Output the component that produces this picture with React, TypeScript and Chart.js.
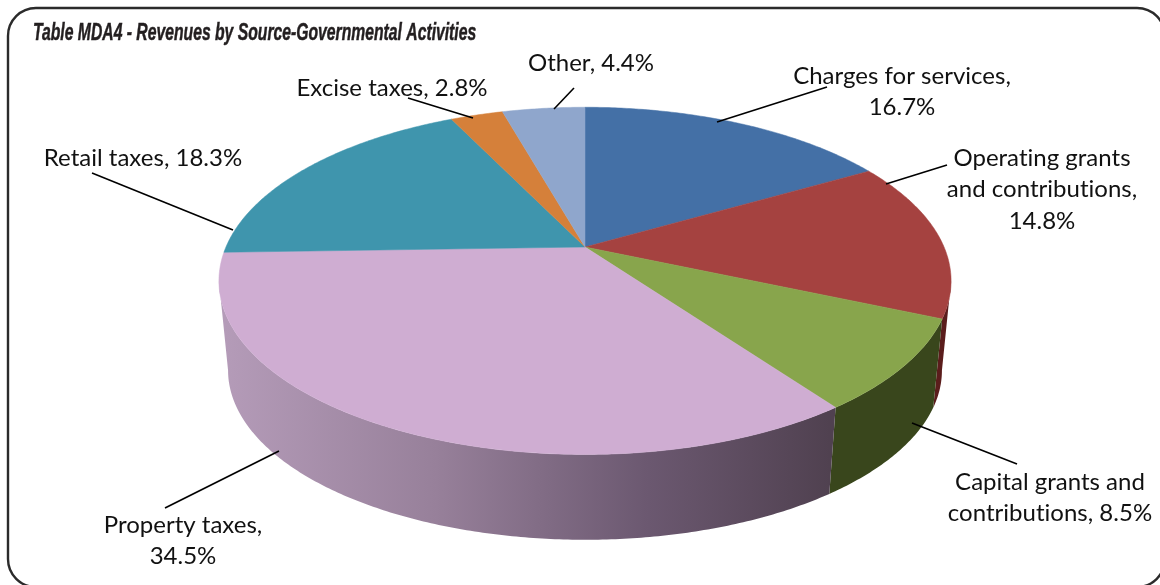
import React, { useEffect, useRef } from "react";
import { Chart, registerables } from "chart.js";

Chart.register(...registerables);

const chartTitle = "Table MDA4 - Revenues by Source-Governmental Activities";
const categories = [
  "Charges for services",
  "Operating grants and contributions",
  "Capital grants and contributions",
  "Property taxes",
  "Retail taxes",
  "Excise taxes",
  "Other",
];
const shares = [16.7, 14.8, 8.5, 34.5, 18.3, 2.8, 4.4];
const faceColors = ["#4470a6", "#a54240", "#88a54c", "#cfadd2", "#3f95ad", "#d5803a", "#8fa6cc"];
const rimColors = ["#2a4566", "#5b1d1c", "#39461c", "", "#25596a", "#7f4d22", "#55647c"];

// Callout placement: text centre, wrap width, first line centre, leader from/to.
const callouts = [
  { cx: 902, cy: 76, wrap: 235, leader: [827, 87, 717, 122] },
  { cx: 1042, cy: 158, wrap: 215, leader: [947, 165, 886, 184] },
  { cx: 1050, cy: 482, wrap: 225, leader: [1017, 464, 912, 423] },
  { cx: 183, cy: 525, wrap: 190, leader: [165, 508, 279, 451] },
  { cx: 143, cy: 158, wrap: 300, leader: [92, 173, 233, 230] },
  { cx: 392, cy: 88, wrap: 300, leader: [408, 98, 473, 118] },
  { cx: 591, cy: 63, wrap: 200, leader: [574, 88, 554, 109] },
];

const TILT = 0.195;
const STRETCH = 2.15;
const RIM_SCALE = 0.975;
const RIM_VANISH = 3620;
const LABEL_FONT = '24px Lato, "Noto Sans", sans-serif';
const LINE_HEIGHT = 31.5;
const TITLE_FONT = 'italic bold 24px "Liberation Sans", sans-serif';
const TITLE_SQUEEZE = 0.655;

type Pt = [number, number];

function onFace(arc: any, a: number): Pt {
  const d = 1 - TILT * Math.sin(a);
  return [
    arc.x + (STRETCH * arc.outerRadius * Math.cos(a)) / d,
    arc.y + (arc.outerRadius * Math.sin(a)) / d,
  ];
}

function onRim(arc: any, a: number): Pt {
  const [x, y] = onFace(arc, a);
  const vy = arc.y + RIM_VANISH;
  return [arc.x + (x - arc.x) * RIM_SCALE, vy + (y - vy) * RIM_SCALE];
}

function sweep(from: number, to: number): number[] {
  const out: number[] = [];
  const n = Math.max(2, Math.ceil(Math.abs(to - from) / 0.01));
  for (let i = 0; i <= n; i++) out.push(from + ((to - from) * i) / n);
  return out;
}

const perspectivePie = {
  id: "perspectivePie",
  beforeDatasetsDraw(chart: any) {
    const ctx: CanvasRenderingContext2D = chart.ctx;
    const arcs = chart.getDatasetMeta(0).data;
    const visibleFrom = Math.asin(TILT);
    const visibleTo = Math.PI - visibleFrom;

    ctx.save();
    // Outer wall, only where it faces the viewer.
    arcs.forEach((arc: any, i: number) => {
      const a0 = Math.max(arc.startAngle, visibleFrom);
      const a1 = Math.min(arc.endAngle, visibleTo);
      if (a1 <= a0) return;
      ctx.beginPath();
      sweep(a0, a1).forEach((a) => ctx.lineTo(...onFace(arc, a)));
      sweep(a1, a0).forEach((a) => ctx.lineTo(...onRim(arc, a)));
      ctx.closePath();
      let fill: any = rimColors[i];
      if (!fill) {
        const g = ctx.createLinearGradient(225, 0, 830, 0);
        g.addColorStop(0, "#b49bb8");
        g.addColorStop(0.35, "#97809a");
        g.addColorStop(0.7, "#6b5870");
        g.addColorStop(1, "#504150");
        fill = g;
      }
      ctx.fillStyle = fill;
      ctx.fill();
    });

    // Top face.
    arcs.forEach((arc: any, i: number) => {
      ctx.beginPath();
      ctx.moveTo(arc.x, arc.y);
      sweep(arc.startAngle, arc.endAngle).forEach((a) => ctx.lineTo(...onFace(arc, a)));
      ctx.closePath();
      ctx.fillStyle = faceColors[i];
      ctx.strokeStyle = faceColors[i];
      ctx.lineWidth = 0.5;
      ctx.fill();
      ctx.stroke();
    });
    ctx.restore();
    return false;
  },
};

function wrapText(ctx: CanvasRenderingContext2D, text: string, width: number): string[] {
  const lines: string[] = [];
  let line = "";
  text.split(" ").forEach((word) => {
    const next = line ? `${line} ${word}` : word;
    if (line && ctx.measureText(next).width > width) {
      lines.push(line);
      line = word;
    } else {
      line = next;
    }
  });
  lines.push(line);
  return lines;
}

// Runs after the whole draw, since the pie plugin cancels the stock arc pass.
const callout = {
  id: "callout",
  afterDraw(chart: any) {
    const ctx: CanvasRenderingContext2D = chart.ctx;
    ctx.save();
    ctx.font = LABEL_FONT;
    // A tiny tracking value switches off the "ti" ligature in this face.
    (ctx as any).letterSpacing = "0.01px";
    ctx.fillStyle = "#111";
    ctx.strokeStyle = "#000";
    ctx.lineWidth = 1.6;
    ctx.textAlign = "center";
    ctx.textBaseline = "middle";
    categories.forEach((name, i) => {
      const c = callouts[i];
      const [x0, y0, x1, y1] = c.leader;
      ctx.beginPath();
      ctx.moveTo(x0, y0);
      ctx.lineTo(x1, y1);
      ctx.stroke();
      wrapText(ctx, `${name}, ${shares[i]}%`, c.wrap).forEach((line, n) => {
        ctx.fillText(line, c.cx, c.cy + n * LINE_HEIGHT);
      });
    });
    ctx.restore();

    // Condensed heading: no narrow face is available, so the text is squeezed.
    ctx.save();
    ctx.translate(33, 40);
    ctx.scale(TITLE_SQUEEZE, 1);
    ctx.font = TITLE_FONT;
    ctx.fillStyle = "#231f20";
    ctx.strokeStyle = "#231f20";
    ctx.lineWidth = 0.5;
    ctx.textAlign = "left";
    ctx.textBaseline = "alphabetic";
    ctx.fillText(chartTitle, 0, 0);
    ctx.strokeText(chartTitle, 0, 0);
    ctx.restore();
  },
};

const panel = {
  id: "panel",
  beforeDraw(chart: any) {
    const ctx: CanvasRenderingContext2D = chart.ctx;
    ctx.save();
    ctx.fillStyle = "#fff";
    ctx.fillRect(0, 0, chart.width, chart.height);
    ctx.strokeStyle = "#2b2b2b";
    ctx.lineWidth = 2.4;
    ctx.beginPath();
    ctx.roundRect(8, 8, 1157, 579, 28);
    ctx.stroke();
    ctx.restore();
  },
};

export default function App() {
  const ref = useRef<HTMLCanvasElement | null>(null);

  useEffect(() => {
    const chart = new Chart(ref.current!, {
      type: "pie",
      data: {
        labels: categories,
        datasets: [{ data: shares, backgroundColor: faceColors, borderWidth: 0 }],
      },
      options: {
        animation: false,
        responsive: false,
        layout: { padding: { left: 33, right: 23, top: 80, bottom: 171 } },
        plugins: {
          legend: { display: false },
          tooltip: { enabled: false },
        },
      },
      plugins: [panel, perspectivePie, callout],
    } as any);
    return () => chart.destroy();
  }, []);

  return (
    <div style={{ position: "absolute", left: 0, top: 0, width: 1160, height: 585 }}>
      <canvas ref={ref} width={1160} height={585} style={{ display: "block" }} />
    </div>
  );
}
